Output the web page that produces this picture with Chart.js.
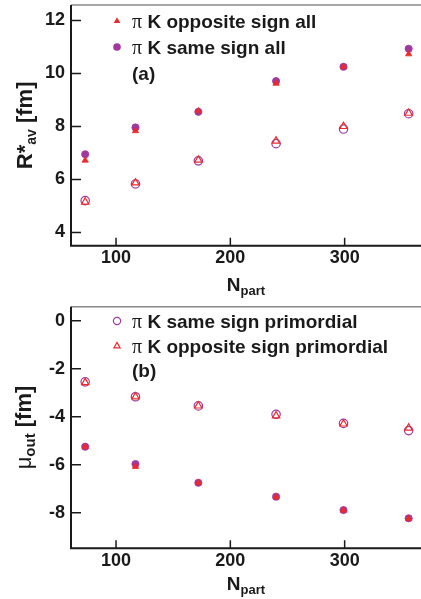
<!DOCTYPE html>
<html lang="en">
<head>
    <meta charset="UTF-8">
    <title>R*av and mu_out vs Npart</title>
    <style>
        html, body {
            margin: 0;
            padding: 0;
            background: #ffffff;
            overflow: hidden;
        }

        .panel {
            width: 421px;
        }

        canvas {
            display: block;
        }
    </style>
</head>
<body>
    <div class="panel"><canvas id="chartA" width="421" height="300"></canvas></div>
    <div class="panel"><canvas id="chartB" width="421" height="299"></canvas></div>

    <script src="https://cdn.jsdelivr.net/npm/chart.js"></script>
    <script>
        // Npart of each centrality class
        const npart = [73, 117, 172, 240, 299, 356];

        // panel (a): R*av [fm]
        const aSameSignAll = [6.95, 7.96, 8.55, 9.71, 10.25, 10.93];
        const aOppSignAll = [6.72, 7.83, 8.58, 9.62, 10.25, 10.73];
        const aSameSignPrim = [5.20, 5.83, 6.70, 7.35, 7.90, 8.48];
        const aOppSignPrim = [5.15, 5.87, 6.73, 7.45, 8.00, 8.50];

        // panel (b): mu_out [fm]
        const bSameSignPrim = [-2.55, -3.17, -3.55, -3.90, -4.28, -4.58];
        const bOppSignPrim = [-2.58, -3.17, -3.55, -3.96, -4.30, -4.47];
        const bSameSignAll = [-5.25, -5.97, -6.75, -7.33, -7.89, -8.23];
        const bOppSignAll = [-5.25, -6.08, -6.75, -7.35, -7.90, -8.25];

        const xTicks = [100, 200, 300];
        const yTicksA = [4, 6, 8, 10, 12];
        const yTicksB = [0, -2, -4, -6, -8];

        const PURPLE = '#a0389f';
        const RED = '#ec2a2a';
        const SANS = '"Liberation Sans", Arial, sans-serif';
        const SERIF = '"Liberation Serif", "Times New Roman", serif';

        function pts(ys) {
            return npart.map((x, i) => ({ x: x, y: ys[i] }));
        }

        function series(label, ys, style, filled, color, order) {
            return {
                label: label,
                data: pts(ys),
                pointStyle: style,
                pointRadius: filled ? 3.6 : 4.2,
                pointBorderWidth: filled ? 0.8 : 1.2,
                pointBackgroundColor: filled ? color : 'rgba(0,0,0,0)',
                pointBorderColor: color,
                showLine: false,
                order: order
            };
        }

        function drawMarker(ctx, style, filled, color, x, y, r) {
            ctx.beginPath();
            if (style === 'circle') {
                ctx.arc(x, y, r, 0, Math.PI * 2);
            } else {
                ctx.moveTo(x, y - r);
                ctx.lineTo(x + r * 0.866, y + r * 0.5);
                ctx.lineTo(x - r * 0.866, y + r * 0.5);
                ctx.closePath();
            }
            if (filled) {
                ctx.fillStyle = color;
                ctx.fill();
            } else {
                ctx.strokeStyle = color;
                ctx.lineWidth = 1.2;
                ctx.stroke();
            }
        }

        // draws text made of pieces with their own font and baseline shift
        function drawRich(ctx, parts, x, y, align) {
            let total = 0;
            parts.forEach(p => {
                ctx.font = p.font;
                p.w = ctx.measureText(p.t).width;
                total += p.w;
            });
            let cx = align === 'center' ? x - total / 2 : x;
            ctx.textAlign = 'left';
            ctx.textBaseline = 'alphabetic';
            parts.forEach(p => {
                ctx.font = p.font;
                ctx.fillText(p.t, cx, y + (p.dy || 0));
                cx += p.w;
            });
        }

        // no automatic room for tick labels, the frame is placed by hand
        function noPadding(s) {
            s.paddingTop = 0;
            s.paddingBottom = 0;
            s.paddingLeft = 0;
            s.paddingRight = 0;
        }

        const framePlugin = {
            id: 'framePlugin',
            afterDraw(chart, args, opts) {
                const ctx = chart.ctx;
                const a = chart.chartArea;
                const sx = chart.scales.x;
                const sy = chart.scales.y;
                ctx.save();

                // frame
                ctx.strokeStyle = '#8a8a8a';
                ctx.lineWidth = 1.5;
                ctx.beginPath();
                ctx.moveTo(a.left, a.top);
                ctx.lineTo(a.right, a.top);
                ctx.stroke();

                ctx.strokeStyle = '#1a1a1a';
                ctx.lineWidth = 2;
                ctx.beginPath();
                ctx.moveTo(a.left, a.top);
                ctx.lineTo(a.left, a.bottom);
                ctx.lineTo(a.right, a.bottom);
                ctx.stroke();

                // ticks pointing inside
                ctx.lineWidth = 1.5;
                ctx.beginPath();
                sx.ticks.forEach(t => {
                    const px = sx.getPixelForValue(t.value);
                    ctx.moveTo(px, a.bottom);
                    ctx.lineTo(px, a.bottom - 8);
                });
                sy.ticks.forEach(t => {
                    const py = sy.getPixelForValue(t.value);
                    ctx.moveTo(a.left, py);
                    ctx.lineTo(a.left + 10, py);
                });
                ctx.stroke();

                // axis titles
                ctx.fillStyle = '#1a1a1a';
                drawRich(ctx, opts.xTitle, (a.left + a.right) / 2, opts.xTitleY, 'center');
                ctx.save();
                ctx.translate(opts.yTitleX, (a.top + a.bottom) / 2);
                ctx.rotate(-Math.PI / 2);
                drawRich(ctx, opts.yTitle, 0, 0, 'center');
                ctx.restore();

                // legend inside the frame
                opts.legend.forEach((e, i) => {
                    const y = opts.legendY[i];
                    if (e.style) {
                        drawMarker(ctx, e.style, e.filled, e.color, opts.legendX, y, e.filled ? 3.8 : 3.6);
                    }
                    ctx.fillStyle = '#1a1a1a';
                    const parts = e.style
                        ? [{ t: 'π', font: '20px ' + SERIF }, { t: ' K ' + e.text, font: 'bold 19px ' + SANS }]
                        : [{ t: e.text, font: 'bold 19px ' + SANS }];
                    drawRich(ctx, parts, opts.legendX + 15, y + 7, 'left');
                });

                ctx.restore();
            }
        };

        function makeChart(id, datasets, yMin, yMax, yTicks, xAxisHeight, topPad, frameOpts) {
            return new Chart(document.getElementById(id), {
                type: 'scatter',
                data: { datasets: datasets },
                options: {
                    responsive: false,
                    devicePixelRatio: 1,
                    animation: false,
                    layout: {
                        autoPadding: false,
                        padding: { left: 0, right: 0, top: topPad, bottom: 0 }
                    },
                    plugins: {
                        legend: { display: false },
                        tooltip: { enabled: false },
                        framePlugin: frameOpts
                    },
                    scales: {
                        x: {
                            type: 'linear',
                            min: 60.6,
                            max: 366.8,
                            grid: { display: false, drawTicks: false },
                            border: { display: false },
                            afterBuildTicks: s => { s.ticks = xTicks.map(v => ({ value: v })); },
                            afterFit: s => { s.height = xAxisHeight; noPadding(s); },
                            ticks: {
                                padding: 2,
                                color: '#1a1a1a',
                                font: { family: SANS, size: 18, weight: 'bold' },
                                maxRotation: 0
                            }
                        },
                        y: {
                            type: 'linear',
                            min: yMin,
                            max: yMax,
                            grid: { display: false, drawTicks: false },
                            border: { display: false },
                            afterBuildTicks: s => { s.ticks = yTicks.map(v => ({ value: v })); },
                            afterFit: s => { s.width = 71; noPadding(s); },
                            ticks: {
                                padding: 6,
                                color: '#1a1a1a',
                                font: { family: SANS, size: 18, weight: 'bold' }
                            }
                        }
                    }
                },
                plugins: [framePlugin]
            });
        }

        makeChart('chartA', [
            series('pi K same sign all', aSameSignAll, 'circle', true, PURPLE, 4),
            series('pi K opposite sign all', aOppSignAll, 'triangle', true, RED, 3),
            series('pi K same sign primordial', aSameSignPrim, 'circle', false, PURPLE, 2),
            series('pi K opposite sign primordial', aOppSignPrim, 'triangle', false, RED, 1)
        ], 3.5, 12.58, yTicksA, 54.3, 5, {
            xTitle: [{ t: 'N', font: 'bold 19px ' + SANS }, { t: 'part', font: 'bold 13px ' + SANS, dy: 4 }],
            xTitleY: 291,
            yTitle: [
                { t: 'R*', font: 'bold 22px ' + SANS },
                { t: 'av', font: 'bold 14px ' + SANS, dy: 4 },
                { t: ' [fm]', font: 'bold 22px ' + SANS }
            ],
            yTitleX: 32,
            legendX: 117,
            legendY: [21, 47, 73],
            legend: [
                { style: 'triangle', filled: true, color: RED, text: 'opposite sign all' },
                { style: 'circle', filled: true, color: PURPLE, text: 'same sign all' },
                { text: '(a)' }
            ]
        });

        makeChart('chartB', [
            series('pi K same sign all', bSameSignAll, 'circle', true, PURPLE, 4),
            series('pi K opposite sign all', bOppSignAll, 'triangle', true, RED, 3),
            series('pi K same sign primordial', bSameSignPrim, 'circle', false, PURPLE, 2),
            series('pi K opposite sign primordial', bOppSignPrim, 'triangle', false, RED, 1)
        ], -9.48, 0.58, yTicksB, 50.7, 6.7, {
            xTitle: [{ t: 'N', font: 'bold 19px ' + SANS }, { t: 'part', font: 'bold 13px ' + SANS, dy: 4 }],
            xTitleY: 290,
            yTitle: [
                { t: 'μ', font: '22px ' + SANS },
                { t: 'out', font: 'bold 15px ' + SANS, dy: 4 },
                { t: ' [fm]', font: 'bold 22px ' + SANS }
            ],
            yTitleX: 31,
            legendX: 117,
            legendY: [21, 46, 70],
            legend: [
                { style: 'circle', filled: false, color: PURPLE, text: 'same sign primordial' },
                { style: 'triangle', filled: false, color: RED, text: 'opposite sign primordial' },
                { text: '(b)' }
            ]
        });
    </script>
</body>
</html>
